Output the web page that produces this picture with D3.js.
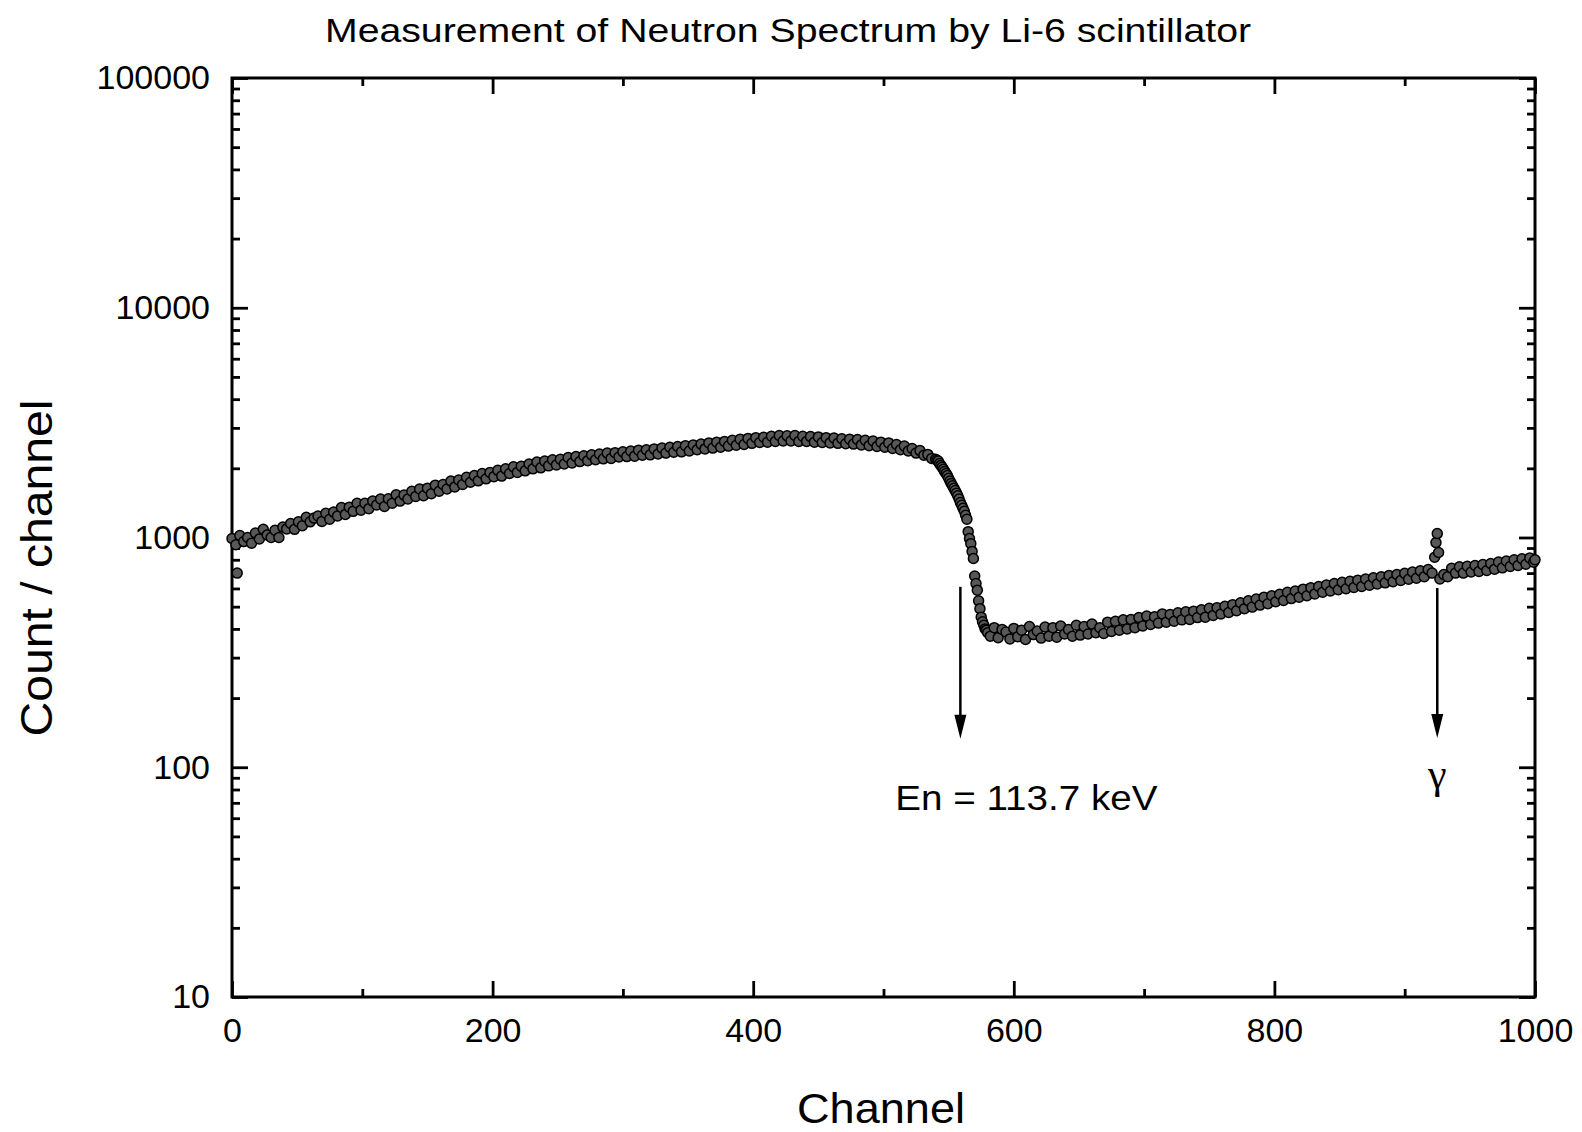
<!DOCTYPE html>
<html lang="en">
<head>
<meta charset="utf-8">
<style>
  body { margin: 0; background: #fff; }
  svg text { font-family: "Liberation Sans", Arial, Helvetica, sans-serif; fill: #000; }
  .axis path, .axis line { stroke: #000; }
  .axis line { stroke-width: 2.8; }
  .axis text { font-size: 34px; }
</style>
<script src="https://d3js.org/d3.v7.min.js"></script>
</head>
<body>
<script>
var width = 1582, height = 1132;
// plot frame in pixels ("top" is taken by window.top, so use other names)
var plotL = 232, plotR = 1535, plotT = 78, plotB = 997;

// rising part, every 3rd channel from 0 to 540
var riseChannels = d3.range(0, 541, 3);
var riseCounts = [
  990, 930, 1020, 960, 1000, 945, 1045, 985, 1085, 1025, 1000, 1075, 1000, 1110, 1090, 1150, 1085, 1170, 1125, 1225,
  1170, 1215, 1240, 1175, 1275, 1200, 1290, 1240, 1350, 1260, 1355, 1300, 1410, 1315, 1410, 1335, 1440, 1385, 1470, 1365,
  1475, 1410, 1535, 1440, 1530, 1470, 1590, 1510, 1625, 1520, 1640, 1550, 1690, 1590, 1700, 1625, 1760, 1660, 1780, 1700,
  1830, 1740, 1860, 1765, 1900, 1800, 1920, 1840, 1960, 1850, 1990, 1900, 2030, 1920, 2040, 1950, 2090, 1990, 2130, 2010,
  2150, 2050, 2180, 2070, 2190, 2090, 2230, 2110, 2250, 2140, 2270, 2160, 2290, 2180, 2310, 2200, 2330, 2210, 2340, 2240,
  2360, 2250, 2380, 2260, 2400, 2280, 2410, 2290, 2430, 2310, 2450, 2330, 2470, 2350, 2490, 2360, 2510, 2380, 2530, 2410,
  2550, 2430, 2580, 2450, 2600, 2470, 2620, 2500, 2650, 2520, 2680, 2540, 2700, 2570, 2720, 2590, 2730, 2600, 2760, 2620,
  2780, 2630, 2770, 2630, 2780, 2620, 2760, 2620, 2750, 2600, 2740, 2590, 2720, 2580, 2710, 2570, 2690, 2560, 2680, 2550,
  2670, 2530, 2650, 2510, 2630, 2490, 2600, 2470, 2580, 2440, 2540, 2410, 2500, 2380, 2440, 2330, 2390, 2280, 2300, 2210,
  2190
];

// the steep edge, every channel from 541 to 580
var edgeChannels = d3.range(541, 581);
var edgeCounts = [
  2170, 2150, 2100, 2060, 2020, 1980, 1940, 1900, 1860, 1810, 1760, 1720, 1680, 1640, 1600, 1560, 1520, 1470, 1420, 1380,
  1340, 1300, 1250, 1200, 1060, 990, 940, 870, 810, 680, 630, 590, 530, 490, 450, 430, 415, 400, 395, 385
];

// flat tail, every 3rd channel from 582 to 999
var tailChannels = d3.range(582, 1000, 3);
var tailCounts = [
  372, 405, 366, 398, 388, 362, 402, 370, 395, 360, 410, 378, 392, 365, 408, 372, 405, 368, 412, 380,
  398, 372, 415, 376, 410, 380, 420, 385, 405, 382, 428, 390, 432, 395, 438, 400, 440, 405, 448, 412,
  455, 418, 452, 424, 465, 428, 462, 432, 470, 438, 475, 440, 478, 448, 485, 450, 492, 458, 495, 465,
  502, 472, 510, 480, 520, 490, 530, 498, 540, 508, 550, 515, 558, 525, 566, 532, 578, 542, 585, 550,
  596, 558, 605, 568, 612, 578, 622, 585, 630, 592, 638, 598, 645, 606, 652, 612, 660, 620, 668, 628,
  675, 635, 684, 642, 690, 650, 698, 658, 708, 665, 716, 675, 725, 700, 950, 660, 690, 675, 735, 700,
  745, 700, 750, 708, 755, 712, 762, 718, 770, 728, 782, 738, 790, 748, 800, 755, 808, 765, 815, 780
];

// single points off the grid: a low point near 0 and the gamma line
var extraChannels = [4, 923, 925, 926, 1000];
var extraCounts = [700, 820, 1040, 860, 800];

var xMajor = [0, 200, 400, 600, 800, 1000];
var xMinor = [100, 300, 500, 700, 900];
var yMajor = [10, 100, 1000, 10000, 100000];

// arrows: channel, counts at top of shaft, counts at tip
var arrowCh = [559, 925];
var arrowFrom = [610, 603];
var arrowTo = [133, 134];
var arrowText = ["En = 113.7 keV", "\u03b3"];

var data = [];
function addPoints(ch, ct) {
  ch.forEach(function(c, i) { data.push({x: c, y: ct[i]}); });
}
addPoints(riseChannels, riseCounts);
addPoints(edgeChannels, edgeCounts);
addPoints(tailChannels, tailCounts);
addPoints(extraChannels, extraCounts);

var svg = d3.select("body").append("svg")
    .attr("width", width)
    .attr("height", height);

var x = d3.scaleLinear().domain([0, 1000]).range([plotL, plotR]);
var y = d3.scaleLog().domain([10, 100000]).range([plotB, plotT]);

var yMinor = [];
yMajor.slice(0, -1).forEach(function(d) {
  for (var k = 2; k <= 9; k++) yMinor.push(d * k);
});

// minor ticks (no labels)
svg.append("g").attr("class", "axis").attr("transform", "translate(0," + plotB + ")")
   .call(d3.axisBottom(x).tickValues(xMinor).tickSize(-8).tickFormat(""));
svg.append("g").attr("class", "axis").attr("transform", "translate(0," + plotT + ")")
   .call(d3.axisTop(x).tickValues(xMinor).tickSize(-8).tickFormat(""));
svg.append("g").attr("class", "axis").attr("transform", "translate(" + plotL + ",0)")
   .call(d3.axisLeft(y).tickValues(yMinor).tickSize(-8).tickFormat(""));
svg.append("g").attr("class", "axis").attr("transform", "translate(" + plotR + ",0)")
   .call(d3.axisRight(y).tickValues(yMinor).tickSize(-8).tickFormat(""));

// major ticks
svg.append("g").attr("class", "axis").attr("transform", "translate(0," + plotB + ")")
   .call(d3.axisBottom(x).tickValues(xMajor).tickSize(-16).tickPadding(21).tickFormat(d3.format("d")));
svg.append("g").attr("class", "axis").attr("transform", "translate(0," + plotT + ")")
   .call(d3.axisTop(x).tickValues(xMajor).tickSize(-16).tickFormat(""));
svg.append("g").attr("class", "axis").attr("transform", "translate(" + plotL + ",0)")
   .call(d3.axisLeft(y).tickValues(yMajor).tickSize(-16).tickPadding(22).tickFormat(d3.format("d")));
svg.append("g").attr("class", "axis").attr("transform", "translate(" + plotR + ",0)")
   .call(d3.axisRight(y).tickValues(yMajor).tickSize(-16).tickFormat(""));

svg.selectAll(".axis .domain").remove();

// frame
svg.append("rect")
   .attr("x", plotL).attr("y", plotT)
   .attr("width", plotR - plotL).attr("height", plotB - plotT)
   .attr("fill", "none").attr("stroke", "#000").attr("stroke-width", 3);

// data points
svg.selectAll(".point")
   .data(data)
   .enter().append("circle")
   .attr("class", "point")
   .attr("cx", function(d) { return x(d.x); })
   .attr("cy", function(d) { return y(d.y); })
   .attr("r", 5)
   .attr("fill", "#585858")
   .attr("stroke", "#000")
   .attr("stroke-width", 1.5);

// arrows
for (var i = 0; i < arrowCh.length; i++) {
  var ax = x(arrowCh[i]), y0 = y(arrowFrom[i]), y1 = y(arrowTo[i]);
  svg.append("line")
     .attr("x1", ax).attr("x2", ax)
     .attr("y1", y0).attr("y2", y1 - 20)
     .attr("stroke", "#000").attr("stroke-width", 2.5);
  svg.append("path")
     .attr("d", "M" + (ax - 6) + "," + (y1 - 24) + "L" + (ax + 6) + "," + (y1 - 24) + "L" + ax + "," + y1 + "Z")
     .attr("fill", "#000");
}

svg.append("text")
   .attr("x", x(arrowCh[0]) - 65).attr("y", y(arrowTo[0]) + 71)
   .attr("textLength", 262).attr("lengthAdjust", "spacingAndGlyphs")
   .style("font-size", "35px")
   .text(arrowText[0]);

svg.append("text")
   .attr("x", x(arrowCh[1])).attr("y", y(arrowTo[1]) + 50)
   .attr("text-anchor", "middle")
   .style("font-family", "'Liberation Serif', 'DejaVu Serif', serif")
   .style("font-size", "42px")
   .text(arrowText[1]);

// titles
svg.append("text")
   .attr("x", 788).attr("y", 42)
   .attr("text-anchor", "middle")
   .attr("textLength", 926).attr("lengthAdjust", "spacingAndGlyphs")
   .style("font-size", "34px")
   .text("Measurement of Neutron Spectrum by Li-6 scintillator");

svg.append("text")
   .attr("x", 881).attr("y", 1123)
   .attr("text-anchor", "middle")
   .attr("textLength", 168).attr("lengthAdjust", "spacingAndGlyphs")
   .style("font-size", "43px")
   .text("Channel");

svg.append("text")
   .attr("transform", "translate(52,568) rotate(-90)")
   .attr("text-anchor", "middle")
   .attr("textLength", 337).attr("lengthAdjust", "spacingAndGlyphs")
   .style("font-size", "44px")
   .text("Count / channel");
</script>
</body>
</html>
